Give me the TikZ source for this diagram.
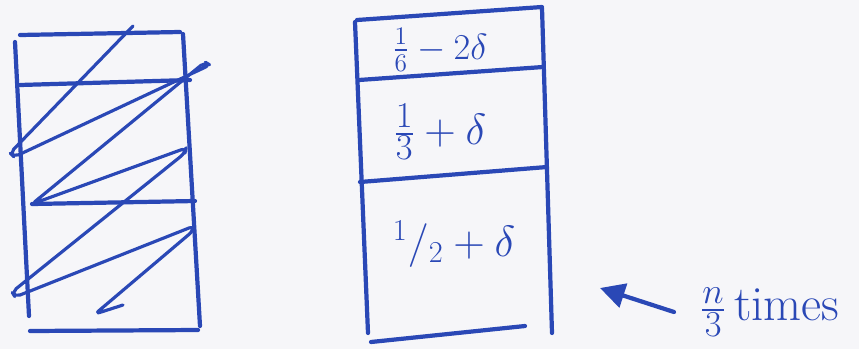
\documentclass[tikz,border=0pt]{standalone}
\usepackage{amsmath}
\usetikzlibrary{arrows.meta}
\definecolor{inkblue}{RGB}{42,72,182}
\definecolor{paper}{RGB}{246,246,249}
\begin{document}
\begin{tikzpicture}[
  x=0.02cm, y=-0.02cm,
  pen/.style={draw=inkblue, line width=2.4pt, line cap=round, line join=round},
  scribble/.style={draw=inkblue, line width=1.8pt, line cap=round, line join=round, rounded corners=3pt},
  lbl/.style={text=inkblue, font=\fontsize{22}{26}\selectfont, inner sep=0pt}
]
  \fill[paper] (0,0) rectangle (859,349);
  \useasboundingbox (0,0) rectangle (859,349);

  % Left column (filled)
  \draw[pen] (20,35) -- (180,32);
  \draw[pen] (15,42) -- (29,316);
  \draw[pen] (183,34) -- (200,326);
  \draw[pen] (20,85) -- (190,80);
  \draw[pen] (32,204) -- (195,201);
  \draw[pen] (30,331) -- (198,330);

  % Scribble over the left column
  \draw[scribble] (133,26) -- (10,153) -- (14,157)
    -- (210,65) -- (205,62)
    -- (32,204) -- (186,148) -- (185,153)
    -- (12,292) -- (15,297)
    -- (194,226) -- (193,231)
    -- (95,314) -- (123,305);

  % Right column (split)
  \draw[pen] (357,20) -- (542,7);
  \draw[pen] (355,22) -- (368,333);
  \draw[pen] (542,8) -- (552,333);
  \draw[pen] (359,80) -- (543,67);
  \draw[pen] (360,182) -- (547,167);
  \draw[pen] (371,342) -- (525,326);

  % Labels in the right column
  \node[lbl] (top) at (440,50) {$\tfrac{1}{6}-2\delta$};
  \node[lbl, font=\fontsize{30}{34}\selectfont] (mid) at (440,132) {$\tfrac{1}{3}+\delta$};
  \node[lbl, font=\fontsize{24}{28}\selectfont] (low) at (454,244) {$^{1}/_{2}+\delta$};

  % Repetition note
  \node[lbl, anchor=west, font=\fontsize{28}{32}\selectfont] (times) at (700,312) {$\frac{n}{3}$\,times};
  \coordinate (tip) at (600,288);
  \draw[pen, -{Triangle[length=14pt,width=14pt]}] (times.west) ++(-26,0) -- (tip);
\end{tikzpicture}
\end{document}
